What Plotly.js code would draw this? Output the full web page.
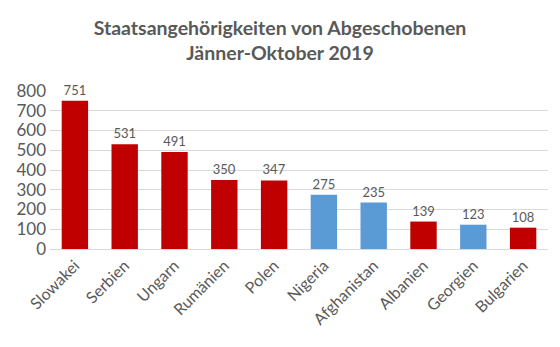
<!DOCTYPE html>
<html><head><meta charset="utf-8">
<script src="https://cdn.plot.ly/plotly-3.0.1.min.js"></script>
<style>body{margin:0;background:#fff}#chart{width:560px;height:347px}</style>
</head><body><div id="chart"></div>
<script>
const categories = ["Slowakei","Serbien","Ungarn","Rumänien","Polen","Nigeria","Afghanistan","Albanien","Georgien","Bulgarien"];
const values = [751,531,491,350,347,275,235,139,123,108];
const isEU = [true,true,true,true,true,false,false,true,false,true];
const colors = isEU.map(e => e ? "#C00000" : "#5B9BD5");
const tickVals = [0,100,200,300,400,500,600,700,800];

const trace = {
  type: "bar",
  x: categories,
  y: values,
  marker: {color: colors},
  text: values.map(String),
  textposition: "outside",
  cliponaxis: false,
  textfont: {family: "Lato, sans-serif", size: 13, color: "#595959"},
  hoverinfo: "none"
};
const layout = {
  width: 560, height: 347,
  margin: {l: 50, r: 12, t: 91, b: 98},
  paper_bgcolor: "#fff", plot_bgcolor: "#fff",
  title: {text: "<b>Staatsangehörigkeiten von Abgeschobenen<br>Jänner-Oktober 2019</b>",
    font: {family: "Lato, sans-serif", size: 19.5, color: "#595959"},
    x: 0.5, xanchor: "center", y: 0.9, yanchor: "middle"},
  bargap: 0.47,
  showlegend: false,
  xaxis: {tickangle: -45, tickfont: {family: "Lato, sans-serif", size: 16, color: "#595959"},
    showline: true, linecolor: "#D9D9D9", ticks: "", fixedrange: true},
  yaxis: {range: [0, 800], tickvals: tickVals, showgrid: true, gridcolor: "#D9D9D9",
    zeroline: false, tickfont: {family: "Lato, sans-serif", size: 17, color: "#595959"},
    ticks: "", ticklabelstandoff: 3, fixedrange: true}
};
Plotly.newPlot("chart", [trace], layout, {displayModeBar: false, staticPlot: true});
</script></body></html>
